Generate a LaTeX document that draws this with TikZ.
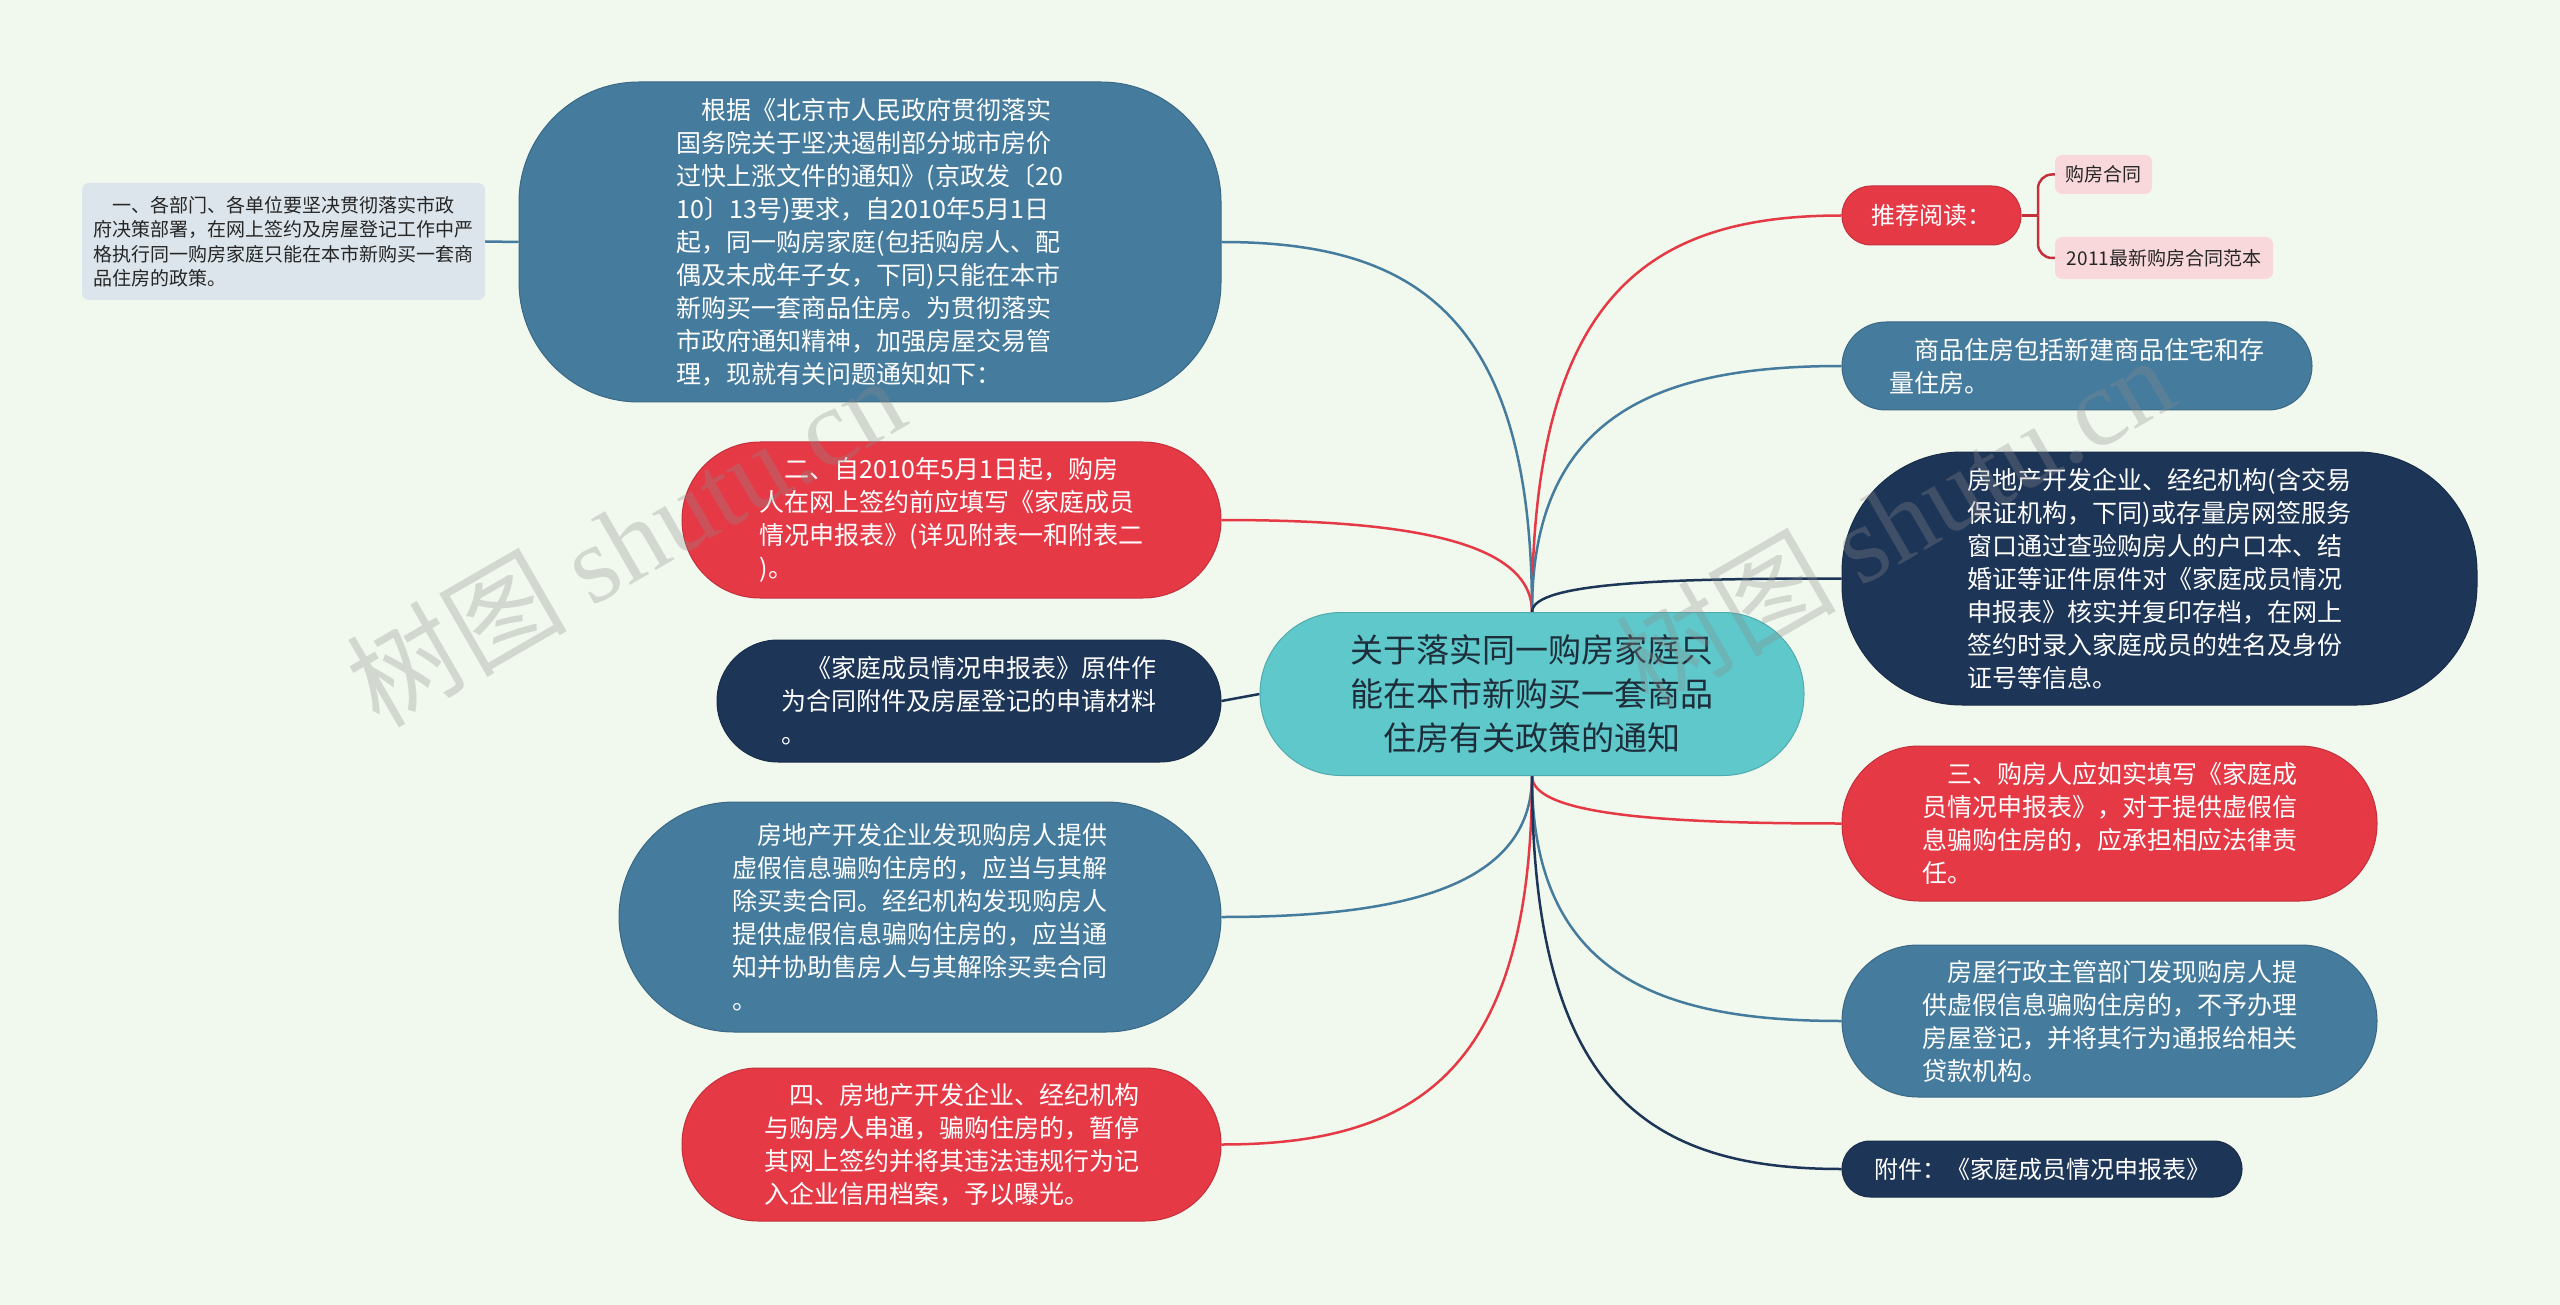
\documentclass[tikz,border=0pt]{standalone}
\usepackage{fontspec}
\setmainfont{Noto Sans CJK SC}
\newfontfamily\wmserif{Liberation Serif}
\pgfdeclarelayer{bglayer}
\pgfdeclarelayer{edgelayer}
\pgfsetlayers{bglayer,edgelayer,main}
\definecolor{bgc}{HTML}{F1F9EE}
\definecolor{steel}{HTML}{457B9D}
\definecolor{navy}{HTML}{1D3557}
\definecolor{imred}{HTML}{E63946}
\definecolor{tealc}{HTML}{5FC8CB}
\definecolor{grayb}{HTML}{DCE5EB}
\definecolor{pinkb}{HTML}{F9D8DB}
\definecolor{darktxt}{HTML}{1E2D3A}
\tikzset{
  box/.style={inner sep=0pt, text=white, align=left, font=\fontsize{25}{33}\selectfont},
  bluebox/.style={box, fill=steel, draw=steel!85!black, line width=1pt},
  redbox/.style={box, fill=imred, draw=imred!85!black, line width=1pt},
  navybox/.style={box, fill=navy, draw=navy!85!black, line width=1pt},
  smallbox/.style={inner sep=0pt, text=black!85, align=left, rounded corners=7pt, font=\fontsize{19}{24.5}\selectfont},
  conn/.style={line width=2.5pt},
  wm/.style={rotate=30, opacity=0.3, text=black!45, font=\fontsize{110}{110}\selectfont}
}
\begin{document}
\begin{tikzpicture}[x=1pt,y=-1pt]
\begin{pgfonlayer}{bglayer}
\fill[bgc] (0,0) rectangle (2560,1305);
\end{pgfonlayer}
\useasboundingbox (0,0) rectangle (2560,1305);

% center
\node[fill=tealc, draw=tealc!85!black, line width=1pt, text=darktxt, align=center, inner sep=0pt,
  minimum width=544pt, minimum height=163pt, rounded corners=81pt,
  font=\fontsize{33}{44}\selectfont] (c) at (1532,694)
  {关于落实同一购房家庭只\\能在本市新购买一套商品\\住房有关政策的通知};

% left side
\node[smallbox, fill=grayb, minimum width=403pt, minimum height=117pt] (g) at (283.5,241.5)
  {\hspace*{1em}一、各部门、各单位要坚决贯彻落实市政\\府决策部署，在网上签约及房屋登记工作中严\\格执行同一购房家庭只能在本市新购买一套商\\品住房的政策。};

\node[bluebox, minimum width=702pt, minimum height=320pt, rounded corners=120pt] (b1) at (870,242)
  {\hspace*{1em}根据《北京市人民政府贯彻落实\\国务院关于坚决遏制部分城市房价\\过快上涨文件的通知》(京政发〔20\\10〕13号)要求，自2010年5月1日\\起，同一购房家庭(包括购房人、配\\偶及未成年子女，下同)只能在本市\\新购买一套商品住房。为贯彻落实\\市政府通知精神，加强房屋交易管\\理，现就有关问题通知如下：};

\node[redbox, minimum width=539pt, minimum height=156pt, rounded corners=78pt] (r2) at (951.5,520)
  {\hspace*{1em}二、自2010年5月1日起，购房\\人在网上签约前应填写《家庭成员\\情况申报表》(详见附表一和附表二\\)。};

\node[navybox, minimum width=504pt, minimum height=122pt, rounded corners=61pt] (n3) at (969,701)
  {\hspace*{1em}《家庭成员情况申报表》原件作\\为合同附件及房屋登记的申请材料\\。};

\node[bluebox, minimum width=602pt, minimum height=230pt, rounded corners=115pt] (b4) at (920,917)
  {\hspace*{1em}房地产开发企业发现购房人提供\\虚假信息骗购住房的，应当与其解\\除买卖合同。经纪机构发现购房人\\提供虚假信息骗购住房的，应当通\\知并协助售房人与其解除买卖合同\\。};

\node[redbox, minimum width=539pt, minimum height=153pt, rounded corners=76pt] (r5) at (951.5,1144.5)
  {\hspace*{1em}四、房地产开发企业、经纪机构\\与购房人串通，骗购住房的，暂停\\其网上签约并将其违法违规行为记\\入企业信用档案，予以曝光。};

% right side
\node[redbox, minimum width=179pt, minimum height=59pt, rounded corners=29pt, font=\fontsize{24}{30}\selectfont] (tj) at (1931.5,215.5)
  {推荐阅读：};
\node[smallbox, fill=pinkb, minimum width=97pt, minimum height=39pt] (p1) at (2103.5,174.5) {购房合同};
\node[smallbox, fill=pinkb, minimum width=218pt, minimum height=42pt] (p2) at (2164,258) {2011最新购房合同范本};

\node[bluebox, minimum width=470pt, minimum height=88pt, rounded corners=44pt] (b6) at (2077,366)
  {\hspace*{1em}商品住房包括新建商品住宅和存\\量住房。};

\node[navybox, minimum width=635pt, minimum height=253pt, rounded corners=120pt] (n7) at (2159.5,578.5)
  {房地产开发企业、经纪机构(含交易\\保证机构，下同)或存量房网签服务\\窗口通过查验购房人的户口本、结\\婚证等证件原件对《家庭成员情况\\申报表》核实并复印存档，在网上\\签约时录入家庭成员的姓名及身份\\证号等信息。};

\node[redbox, minimum width=535pt, minimum height=155pt, rounded corners=77pt] (r8) at (2109.5,823.5)
  {\hspace*{1em}三、购房人应如实填写《家庭成\\员情况申报表》，对于提供虚假信\\息骗购住房的，应承担相应法律责\\任。};

\node[bluebox, minimum width=535pt, minimum height=152pt, rounded corners=76pt] (b9) at (2109.5,1021)
  {\hspace*{1em}房屋行政主管部门发现购房人提\\供虚假信息骗购住房的，不予办理\\房屋登记，并将其行为通报给相关\\贷款机构。};

\node[navybox, minimum width=400pt, minimum height=56pt, rounded corners=28pt, font=\fontsize{24}{30}\selectfont] (n10) at (2042,1169)
  {附件：《家庭成员情况申报表》};

\coordinate (br) at (2038,215.5);

\begin{pgfonlayer}{edgelayer}
\draw[conn, steel] (g.east) -- (b1.west);
\draw[conn, steel] (c.north) .. controls +(0,-300) and +(190,0) .. (b1.east);
\draw[conn, imred] (c.north) .. controls +(0,-75) and +(170,0) .. (r2.east);
\draw[conn, navy] (c.west) -- (n3.east);
\draw[conn, steel] (c.south) .. controls +(0,115) and +(170,0) .. (b4.east);
\draw[conn, imred] (c.south) .. controls +(0,300) and +(190,0) .. (r5.east);
\draw[conn, imred] (c.north) .. controls +(0,-320) and +(-190,0) .. (tj.west);
\draw[conn, steel] (c.north) .. controls +(0,-200) and +(-180,0) .. (b6.west);
\draw[conn, navy] (c.north) .. controls +(0,-30) and +(-170,0) .. (n7.west);
\draw[conn, imred] (c.south) .. controls +(0,40) and +(-170,0) .. (r8.west);
\draw[conn, steel] (c.south) .. controls +(0,200) and +(-180,0) .. (b9.west);
\draw[conn, navy] (c.south) .. controls +(0,320) and +(-190,0) .. (n10.west);
\draw[conn, imred!85!black] (tj.east) -- (br);
\draw[conn, imred!85!black, rounded corners=14pt] (br) |- (p1.west);
\draw[conn, imred!85!black, rounded corners=14pt] (br) |- (p2.west);
\end{pgfonlayer}

% watermarks
\node[wm] (wm1) at (625,540) {树图 {\wmserif shutu.cn}};
\node[wm] (wm2) at (1894,520) {树图 {\wmserif shutu.cn}};
\end{tikzpicture}
\end{document}
